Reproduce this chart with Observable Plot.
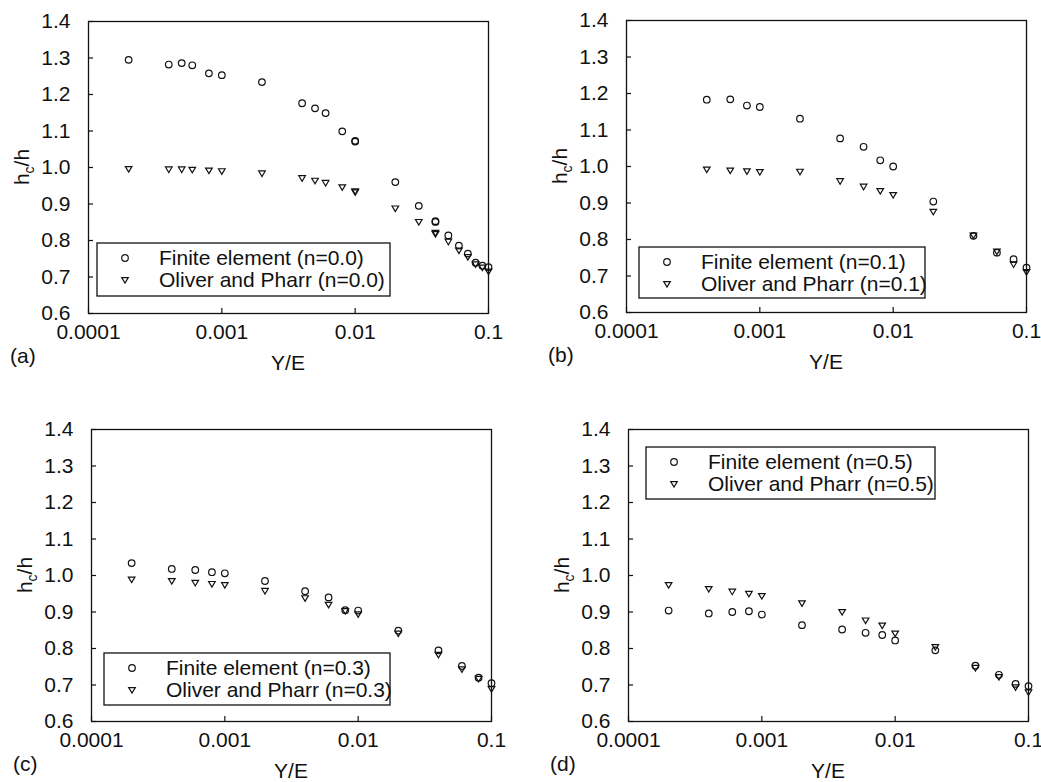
<!DOCTYPE html>
<html>
<head>
<meta charset="utf-8">
<script src="https://cdn.jsdelivr.net/npm/d3@7"></script>
<script src="https://cdn.jsdelivr.net/npm/@observablehq/plot@0.6"></script>
<style>
  body { margin: 0; background: #fff; }
  #chart { position: relative; width: 1041px; height: 782px; overflow: hidden; background: #fff;
           font-family: "Liberation Sans", Arial, Helvetica, sans-serif; }
</style>
</head>
<body>
<div id="chart"></div>
<script>
// ---------- data ----------
const xTicks = [0.0001, 0.001, 0.01, 0.1];
const yTicks = [0.6, 0.7, 0.8, 0.9, 1.0, 1.1, 1.2, 1.3, 1.4];

// (a) n = 0.0
const xA  = [0.0002,0.0004,0.0005,0.0006,0.0008,0.001,0.002,0.004,0.005,0.006,0.008,0.01,0.01,0.02,0.03,0.04,0.04,0.05,0.06,0.07,0.08,0.09,0.1];
const feA = [1.295,1.282,1.286,1.280,1.258,1.253,1.234,1.176,1.162,1.149,1.099,1.073,1.071,0.960,0.895,0.853,0.851,0.814,0.786,0.764,0.739,0.731,0.727];
const opA = [0.996,0.995,0.995,0.994,0.992,0.990,0.984,0.971,0.964,0.958,0.946,0.935,0.932,0.888,0.851,0.821,0.818,0.797,0.773,0.755,0.735,0.726,0.715];

// (b) n = 0.1
const xB  = [0.0004,0.0006,0.0008,0.001,0.002,0.004,0.006,0.008,0.01,0.02,0.04,0.06,0.08,0.1];
const feB = [1.183,1.184,1.167,1.163,1.131,1.077,1.054,1.017,1.000,0.904,0.810,0.764,0.746,0.723];
const opB = [0.992,0.989,0.987,0.985,0.986,0.960,0.945,0.933,0.922,0.876,0.811,0.767,0.732,0.711];

// (c) n = 0.3
const xC  = [0.0002,0.0004,0.0006,0.0008,0.001,0.002,0.004,0.006,0.008,0.01,0.02,0.04,0.06,0.08,0.1];
const feC = [1.034,1.018,1.015,1.009,1.006,0.985,0.957,0.940,0.905,0.904,0.849,0.795,0.752,0.720,0.705];
const opC = [0.989,0.985,0.980,0.977,0.974,0.958,0.938,0.920,0.903,0.894,0.841,0.783,0.743,0.717,0.689];

// (d) n = 0.5
const xD  = [0.0002,0.0004,0.0006,0.0008,0.001,0.002,0.004,0.006,0.008,0.01,0.02,0.04,0.06,0.08,0.1];
const feD = [0.904,0.896,0.900,0.902,0.893,0.864,0.852,0.843,0.837,0.822,0.795,0.753,0.728,0.703,0.697];
const opD = [0.974,0.963,0.956,0.950,0.944,0.924,0.900,0.877,0.863,0.841,0.804,0.747,0.722,0.694,0.680];

const panelTags = ["(a)", "(b)", "(c)", "(d)"];
const nValues = ["0.0", "0.1", "0.3", "0.5"];
const xLabel = "Y/E";
const feName = "Finite element";
const opName = "Oliver and Pharr";

// ---------- layout ----------
const FONT = '"Liberation Sans", Arial, Helvetica, sans-serif';
const FS = 21;
const W = 508, H = 373, ML = 88, MT = 21, MR = 20, MB = 60;
const FW = W - ML - MR, FH = H - MT - MB;
const INK = "#111";

const triDown = {
  draw(ctx, size) {
    const r = Math.sqrt(size / Math.PI);
    ctx.moveTo(-r, -0.72 * r);
    ctx.lineTo(r, -0.72 * r);
    ctx.lineTo(0, 0.95 * r);
    ctx.closePath();
  }
};

const panels = [
  {xs: xA, fe: feA, op: opA, left: 0,   top: 0,   legend: {x: 9,  y: 222, w: 293, h: 53}},
  {xs: xB, fe: feB, op: opB, left: 538, top: -1,  legend: {x: 13, y: 227, w: 286, h: 51}},
  {xs: xC, fe: feC, op: opC, left: 3,   top: 408, legend: {x: 13, y: 224, w: 286, h: 52}},
  {xs: xD, fe: feD, op: opD, left: 540, top: 408, legend: {x: 18, y: 18,  w: 289, h: 52}}
];

const chart = document.getElementById("chart");

panels.forEach((p, i) => {
  const feData = p.xs.map((x, j) => ({x, y: p.fe[j]}));
  const opData = p.xs.map((x, j) => ({x, y: p.op[j]}));

  const svg = Plot.plot({
    width: W, height: H,
    marginLeft: ML, marginTop: MT, marginRight: MR, marginBottom: MB,
    style: {fontFamily: FONT, fontSize: FS + "px", color: INK, background: "white", overflow: "visible"},
    x: {type: "log", domain: [1e-4, 0.1], label: null},
    y: {domain: [0.6, 1.4], label: null},
    marks: [
      Plot.axisX(xTicks, {tickSize: 5, dy: -5, fill: "none", label: null, strokeWidth: 1.2}),
      Plot.axisX(xTicks, {tickSize: 0, tickPadding: 11, fontSize: FS, tickFormat: d => String(d), label: null}),
      Plot.axisY(yTicks, {tickSize: 5, dx: 5, fill: "none", label: null, strokeWidth: 1.2}),
      Plot.axisY(yTicks, {tickSize: 0, tickPadding: 18, fontSize: FS, tickFormat: d => d.toFixed(1), label: null}),
      Plot.frame({stroke: INK, strokeWidth: 1.3}),
      Plot.dot(opData, {x: "x", y: "y", r: 3.3, symbol: triDown, stroke: INK, strokeWidth: 1.2, fill: "none"}),
      Plot.dot(feData, {x: "x", y: "y", r: 3.3, stroke: INK, strokeWidth: 1.2, fill: "none"})
    ]
  });
  svg.style.position = "absolute";
  svg.style.left = p.left + "px";
  svg.style.top = p.top + "px";

  const s = d3.select(svg);
  // make sure the tick labels use the intended size
  s.selectAll("g[aria-label$='tick label']").attr("font-size", FS).attr("font-family", FONT);
  const bottom = MT + FH;

  // x-axis title
  s.append("text").attr("x", ML + FW / 2).attr("y", bottom + 57)
    .attr("text-anchor", "middle").attr("fill", INK).attr("font-size", FS)
    .text(xLabel);
  // panel tag
  s.append("text").attr("x", ML - 78).attr("y", bottom + 50)
    .attr("text-anchor", "start").attr("fill", INK).attr("font-size", FS)
    .text(panelTags[i]);
  // y-axis title h_c/h
  const yt = s.append("text")
    .attr("transform", `translate(${ML - 59},${MT + FH / 2}) rotate(-90)`)
    .attr("text-anchor", "middle").attr("fill", INK).attr("font-size", FS);
  yt.append("tspan").text("h");
  yt.append("tspan").attr("dy", 5).attr("font-size", 14).text("c");
  yt.append("tspan").attr("dy", -5).text("/h");

  // legend
  const L = p.legend;
  const g = s.append("g").attr("transform", `translate(${ML + L.x},${MT + L.y})`);
  g.append("rect").attr("width", L.w).attr("height", L.h)
    .attr("fill", "white").attr("stroke", INK).attr("stroke-width", 1.3);
  g.append("circle").attr("cx", 28).attr("cy", 15).attr("r", 3.3)
    .attr("fill", "none").attr("stroke", INK).attr("stroke-width", 1.2);
  const tp = d3.path();
  triDown.draw(tp, Math.PI * 3.3 * 3.3);
  g.append("path").attr("transform", "translate(28,37)").attr("d", tp.toString())
    .attr("fill", "none").attr("stroke", INK).attr("stroke-width", 1.2);
  g.append("text").attr("x", 62).attr("y", 15 + 7).attr("text-anchor", "start")
    .attr("fill", INK).attr("font-size", FS)
    .text(`${feName} (n=${nValues[i]})`);
  g.append("text").attr("x", 62).attr("y", 37 + 7).attr("text-anchor", "start")
    .attr("fill", INK).attr("font-size", FS)
    .text(`${opName} (n=${nValues[i]})`);

  chart.appendChild(svg);
});
</script>
</body>
</html>
